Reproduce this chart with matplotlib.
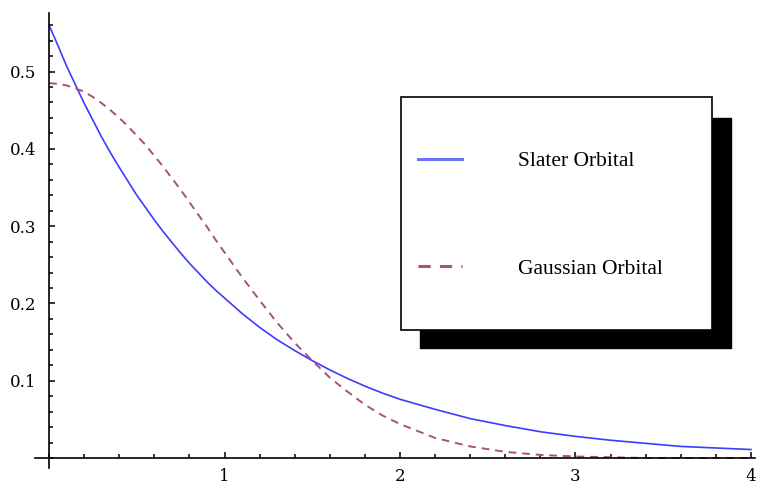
"""
Slater vs Gaussian orbital radial plot.
"""

from __future__ import annotations

import matplotlib

matplotlib.use("Agg")

import matplotlib.pyplot as plt
from matplotlib.patches import Rectangle
from matplotlib.ticker import MultipleLocator

# ============================================================
# Data
# ============================================================

R_VALUES = [
    0.0, 0.05, 0.1, 0.15, 0.2, 0.25, 0.3, 0.35, 0.4, 0.45,
    0.5, 0.55, 0.6, 0.65, 0.7, 0.75, 0.8, 0.85, 0.9, 0.95,
    1.0, 1.1, 1.2, 1.3, 1.4, 1.5, 1.6, 1.7, 1.8, 1.9,
    2.0, 2.2, 2.4, 2.6, 2.8, 3.0, 3.2, 3.4, 3.6, 3.8, 4.0,
]

SLATER = [
    0.560, 0.534, 0.507, 0.483, 0.459, 0.437, 0.415, 0.395, 0.376, 0.358,
    0.340, 0.324, 0.308, 0.293, 0.279, 0.265, 0.252, 0.240, 0.228, 0.217,
    0.207, 0.187, 0.169, 0.153, 0.139, 0.126, 0.114, 0.103, 0.093, 0.084,
    0.076, 0.063, 0.051, 0.042, 0.034, 0.028, 0.023, 0.019, 0.015, 0.013, 0.011,
]

GAUSSIAN = [
    0.485, 0.484, 0.482, 0.478, 0.474, 0.467, 0.459, 0.450, 0.440, 0.429,
    0.417, 0.405, 0.391, 0.377, 0.362, 0.347, 0.331, 0.315, 0.299, 0.282,
    0.266, 0.234, 0.204, 0.175, 0.149, 0.126, 0.104, 0.086, 0.069, 0.055,
    0.044, 0.026, 0.015, 0.008, 0.004, 0.002, 0.001, 0.000, 0.000, 0.000, 0.000,
]

X_TICKS = [1, 2, 3, 4]
Y_TICKS = [0.1, 0.2, 0.3, 0.4, 0.5]
Y_TICK_LABELS = ["0.1", "0.2", "0.3", "0.4", "0.5"]

LABELS = ["Slater Orbital", "Gaussian Orbital"]

W, H = 761, 484


def fx(px: float) -> float:
    return px / W


def fy(py: float) -> float:
    return 1 - py / H


def plot_orbitals() -> None:
    """
    Draw both orbitals with a Mathematica-like boxed legend.
    """

    fig = plt.figure(figsize=(W / 100, H / 100), dpi=100)

    ax = fig.add_axes([fx(35), fy(468), fx(755) - fx(35), fy(13) - fy(468)])

    ax.plot(
        R_VALUES,
        SLATER,
        color="#3c3cff",
        linewidth=1.2,
        label=LABELS[0],
    )

    ax.plot(
        R_VALUES,
        GAUSSIAN,
        color="#a8507e",
        linewidth=1.4,
        dashes=(4, 3),
        label=LABELS[1],
    )

    ax.set_xlim(-0.08, 4.023)
    ax.set_ylim(-0.0129, 0.5757)

    # ============================================================
    # Axes crossing at the origin
    # ============================================================

    for side in ("top", "right"):
        ax.spines[side].set_visible(False)

    for side in ("left", "bottom"):
        ax.spines[side].set_position(("data", 0))
        ax.spines[side].set_linewidth(1.2)

    ax.set_xticks(X_TICKS)
    ax.set_yticks(Y_TICKS, Y_TICK_LABELS)
    ax.xaxis.set_minor_locator(MultipleLocator(0.2))
    ax.yaxis.set_minor_locator(MultipleLocator(0.02))

    ax.tick_params(which="both", direction="in", width=1.1)
    ax.tick_params(which="major", length=4.5)
    ax.tick_params(which="minor", length=2.8)
    ax.tick_params(axis="x", pad=7, labelsize=12)
    ax.tick_params(axis="y", pad=9, labelsize=12)

    for lab in ax.get_xticklabels() + ax.get_yticklabels():
        lab.set_family("DejaVu Serif")

    # ============================================================
    # Legend box with hard shadow
    # ============================================================

    ax.add_patch(
        Rectangle(
            (fx(420), fy(348)),
            fx(731) - fx(420),
            fy(118) - fy(348),
            transform=fig.transFigure,
            facecolor="black",
            edgecolor="black",
            clip_on=False,
            zorder=5,
        )
    )

    ax.add_patch(
        Rectangle(
            (fx(401), fy(330)),
            fx(712) - fx(401),
            fy(97) - fy(330),
            transform=fig.transFigure,
            facecolor="white",
            edgecolor="black",
            linewidth=1.2,
            clip_on=False,
            zorder=6,
        )
    )

    leg = ax.legend(
        loc="upper left",
        bbox_to_anchor=(fx(418), fy(151)),
        bbox_transform=fig.transFigure,
        frameon=False,
        borderpad=0,
        borderaxespad=0,
        handlelength=2.05,
        handletextpad=2.6,
        labelspacing=4.08,
        prop={"family": "Liberation Serif", "size": 15.5},
    )
    leg.set_zorder(7)

    for line in leg.get_lines():
        line.set_linewidth(2.2)
    leg.get_lines()[0].set_color("#7070ff")

    fig.savefig("out.png", dpi=100)


if __name__ == "__main__":
    plot_orbitals()
